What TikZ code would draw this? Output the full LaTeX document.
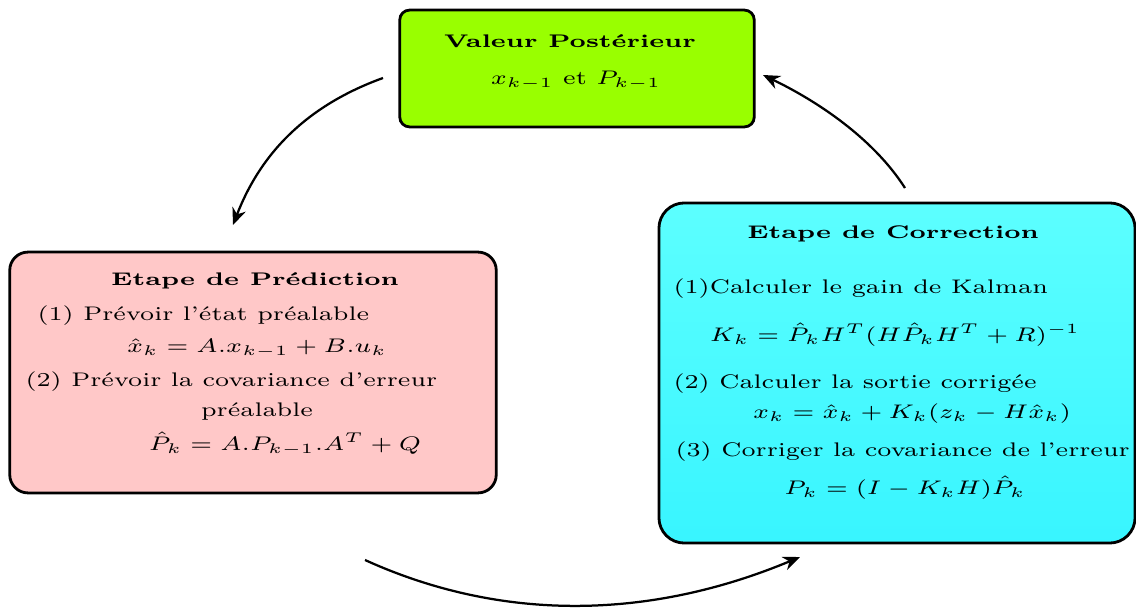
\documentclass[tikz,border=0pt]{standalone}
\usepackage{xcolor}
\usetikzlibrary{arrows.meta, positioning, calc}
\definecolor{postgreen}{RGB}{153,255,0}
\definecolor{predpink}{RGB}{255,200,200}
\definecolor{corrtop}{RGB}{92,255,255}
\definecolor{corrbot}{RGB}{56,245,255}
\newcommand{\widetxt}[1]{\scalebox{1.26}[1]{#1}}
\newcommand{\widetitle}[1]{\scalebox{1.38}[1]{#1}}

\begin{document}
\begin{tikzpicture}[x=0.0125cm, y=-0.0125cm, >={Stealth[length=6pt,width=5pt]},
  every node/.style={inner sep=0pt, font=\fontsize{7}{8.4}\selectfont},
  box/.style={draw=black, line width=1pt},
  title/.style={font=\fontsize{6.5}{8}\selectfont\bfseries}]
\useasboundingbox (0,0) rectangle (1136,610);

% the three boxes
\node[box, fill=postgreen, rounded corners=3.5pt, minimum width=4.43cm, minimum height=1.46cm] (post) at (577,68.5) {};
\node[box, fill=predpink, rounded corners=6.5pt, minimum width=6.08cm, minimum height=3.01cm] (pred) at (253,372.5) {};
\node[box, top color=corrtop, bottom color=corrbot, rounded corners=9pt, minimum width=5.95cm, minimum height=4.25cm] (corr) at (897,373) {};

% valeur posterieur
\node[title] (posttitle) at (570,41) {\widetitle{Valeur Postérieur}};
\node (postval) at (576,80) {\widetxt{$x_{k-1}$ et $P_{k-1}$}};

% prediction
\node[title] (predtitle) at (255,281) {\widetitle{Etape de Prédiction}};
\node[anchor=west] (pred1) at (37,316) {\widetxt{(1) Prévoir l'état préalable}};
\node (predx) at (257,348) {\widetxt{$\hat{x}_k = A.x_{k-1} + B.u_k$}};
\node[anchor=west] (pred2) at (25,382) {\widetxt{(2) Prévoir la covariance d'erreur}};
\node (pred2b) at (257,412) {\widetxt{préalable}};
\node (predp) at (285,444) {\widetxt{$\hat{P}_k = A.P_{k-1}.A^T + Q$}};

% correction
\node[title] (corrtitle) at (893,234) {\widetitle{Etape de Correction}};
\node[anchor=west] (corr1) at (673,289) {\widetxt{(1)Calculer le gain de Kalman}};
\node (corrk) at (895,335) {\widetxt{$K_k = \hat{P}_k H^T (H \hat{P}_k H^T + R)^{-1}$}};
\node[anchor=west] (corr2) at (673,384) {\widetxt{(2) Calculer la sortie corrigée}};
\node (corrx) at (912,414) {\widetxt{$x_k = \hat{x}_k + K_k(z_k - H\hat{x}_k)$}};
\node[anchor=west] (corr3) at (675,452) {\widetxt{(3) Corriger la covariance de l'erreur}};
\node (corrp) at (905,488) {\widetxt{$P_k = (I - K_kH)\hat{P}_k$}};

% cycle arrows
\coordinate (topl) at (383,78);
\coordinate (predin) at (233,225);
\coordinate (predout) at (365,560);
\coordinate (corrin) at (800,557);
\coordinate (corrout) at (905,188);
\coordinate (topr) at (763,75);
\draw[->, thick] (topl) .. controls (300,108) and (258,160) .. (predin);
\draw[->, thick] (predout) .. controls (506,624) and (654,618) .. (corrin);
\draw[->, thick] (corrout) .. controls (873,138) and (817,101) .. (topr);
\end{tikzpicture}
\end{document}
